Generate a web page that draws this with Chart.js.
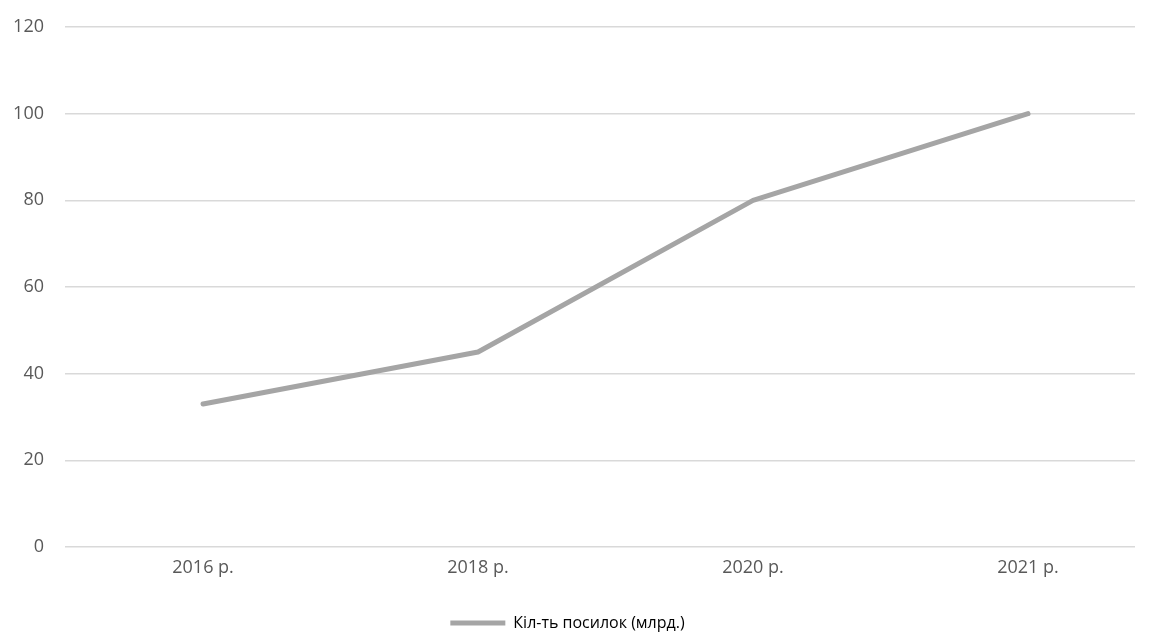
<!DOCTYPE html>
<html>
<head>
<meta charset="utf-8">
<script src="https://cdn.jsdelivr.net/npm/chart.js@4"></script>
<style>
  html, body { margin: 0; padding: 0; background: #fff; }
  #wrap { width: 1151px; height: 634px; position: relative; }
</style>
</head>
<body>
<div id="wrap"><canvas id="chart"></canvas></div>
<script>
// дані з графіка
const years = ['2016 р.', '2018 р.', '2020 р.', '2021 р.'];
const parcels = [33, 45, 80, 100];
const yTicks = [0, 20, 40, 60, 80, 100, 120];
const seriesName = 'Кіл-ть посилок (млрд.)';

const textColor = '#595959';
const gridColor = '#d9d9d9';
const lineColor = '#a5a5a5';
const tickFont = { family: '"Open Sans", sans-serif', size: 18 };
const legendFont = { family: '"Open Sans", sans-serif', size: 16 };

const points = parcels.map((v, i) => ({ x: i, y: v }));

new Chart(document.getElementById('chart'), {
  type: 'line',
  data: {
    datasets: [{
      label: seriesName,
      data: points,
      borderColor: lineColor,
      backgroundColor: lineColor,
      borderWidth: 5,
      pointRadius: 0,
      tension: 0,
      borderCapStyle: 'round',
      borderJoinStyle: 'round',
    }],
  },
  options: {
    responsive: true,
    maintainAspectRatio: false,
    animation: false,
    layout: { padding: { top: 27, right: 16, bottom: -7, left: 0 } },
    scales: {
      x: {
        type: 'linear',
        min: -0.502,
        max: 3.389,
        grid: { display: false },
        border: { display: false },
        afterBuildTicks: (axis) => {
          axis.ticks = years.map((_, i) => ({ value: i }));
        },
        afterFit: (axis) => { axis.height = 68; },
        ticks: {
          color: textColor,
          font: tickFont,
          padding: 2,
          maxRotation: 0,
          callback: (v) => years[v],
        },
      },
      y: {
        min: 0,
        max: 120,
        afterBuildTicks: (axis) => {
          axis.ticks = yTicks.map(v => ({ value: v }));
        },
        afterFit: (axis) => { axis.width = 65; },
        // прозорі засічки замість великого відступу підписів
        grid: { color: gridColor, lineWidth: 1.5, drawTicks: true, tickLength: 18, tickColor: 'rgba(0,0,0,0)' },
        border: { display: false },
        ticks: { color: textColor, font: tickFont, padding: 3 },
      },
    },
    plugins: {
      tooltip: { enabled: false },
      legend: {
        position: 'bottom',
        labels: {
          color: textColor,
          font: legendFont,
          boxWidth: 55,
          boxHeight: 5,
          padding: 0,
          generateLabels: () => [{
            text: seriesName,
            fillStyle: lineColor,
            strokeStyle: lineColor,
            lineWidth: 0,
            datasetIndex: 0,
          }],
        },
      },
    },
  },
});
</script>
</body>
</html>
